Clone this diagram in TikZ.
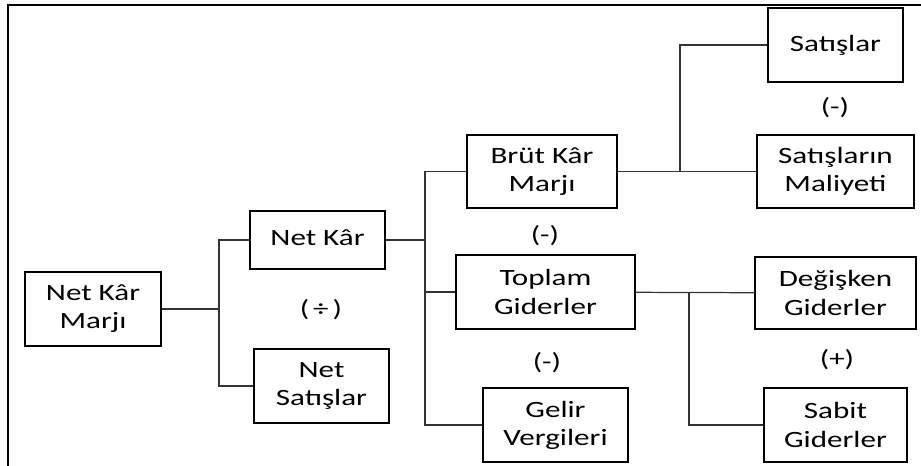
\documentclass[tikz,border=0pt]{standalone}
\usepackage{fontspec}
\setmainfont{Carlito}[FakeStretch=1.33]
\tikzset{
 box/.style={draw, line width=0.9pt, align=center, inner sep=2pt, font=\fontsize{13.3}{16}\selectfont},
 sign/.style={font=\fontsize{13.3}{16}\selectfont},
 link/.style={line width=0.7pt, black!80}
}
\begin{document}
\begin{tikzpicture}[x=0.02cm,y=-0.02cm]
 \useasboundingbox (0,0) rectangle (921,466);
 \draw[line width=1.2pt] (8,466) -- (8,5) -- (921,5);

 \node (NKM) [box, minimum width=2.72cm, minimum height=1.48cm] at (93,309) {Net Kâr\\Marjı};
 \node (NK) [box, minimum width=2.70cm, minimum height=1.16cm] at (317.5,240) {\raisebox{3pt}{Net Kâr}};
 \node (NS) [box, minimum width=2.70cm, minimum height=1.48cm] at (321.5,386) {Net\\Satışlar};
 \node (BKM) [box, minimum width=3.00cm, minimum height=1.46cm] at (542,171.5) {Brüt Kâr\\Marjı};
 \node (TG) [box, minimum width=3.58cm, minimum height=1.48cm] at (545.5,292) {Toplam\\Giderler};
 \node (GV) [box, minimum width=2.90cm, minimum height=1.48cm] at (555.5,425) {Gelir\\Vergileri};
 \node (S) [box, minimum width=2.70cm, minimum height=1.48cm] at (835.5,45) {\raisebox{-4pt}{Satışlar}};
 \node (SM) [box, minimum width=3.14cm, minimum height=1.46cm] at (835.5,171.5) {Satışların\\Maliyeti};
 \node (DG) [box, minimum width=3.22cm, minimum height=1.44cm] at (835.5,293) {Değişken\\Giderler};
 \node (SG) [box, minimum width=2.86cm, minimum height=1.48cm] at (835.5,425) {Sabit\\Giderler};

 \node (div) [sign] at (321,310) {(\,÷\,)};
 \node (minA) [sign] at (835,108) {(-)};
 \node (minB) [sign] at (545,236) {(-)};
 \node (minC) [sign] at (547,363) {(-)};
 \node (plus) [sign] at (837,360) {(+)};

 \coordinate (J1) at (219,309);
 \coordinate (J2) at (425,240);
 \coordinate (J3) at (680,171.5);
 \coordinate (J4) at (689,293);

 \draw [link] (NKM) -- (J1);
 \draw [link] (NK.west) -| (J1) |- (NS.west);
 \draw [link] (NK.east) -- (J2);
 \draw [link] (BKM.west) -| (J2) |- (GV.west);
 \draw [link] (TG.west) -- (TG.west -| J2);
 \draw [link] (BKM) -- (SM);
 \draw [link] (S.west) -| (J3);
 \draw [link] (TG) -- (DG);
 \draw [link] (J4) |- (SG.west);
\end{tikzpicture}
\end{document}
